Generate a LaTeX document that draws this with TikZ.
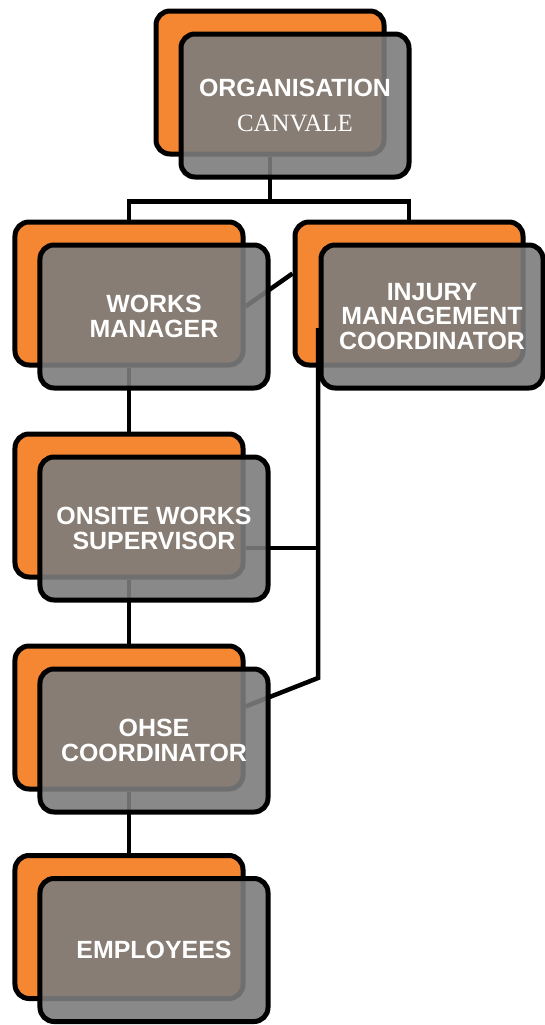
\documentclass[tikz,border=0pt]{standalone}
\usepackage{fontspec}
\setmainfont{Liberation Sans}
\newfontfamily\canvalefont{Liberation Serif}
\usepackage{tikz}
\usetikzlibrary{positioning}
\definecolor{BackFill}{RGB}{246,135,50}
\definecolor{FrontFill}{RGB}{124,124,124}
\definecolor{LinkColor}{RGB}{0,0,0}
\tikzset{
  % Orange card behind
  backbox/.style={
    rectangle,
    rounded corners=14bp,
    draw=black,
    line width=5bp,
    fill=BackFill,
    minimum width=228bp,
    minimum height=143bp,
    inner sep=0pt
  },
  % See-through grey card in front
  frontbox/.style={
    rectangle,
    rounded corners=14bp,
    draw=black,
    line width=5bp,
    fill=FrontFill,
    fill opacity=0.9,
    text opacity=1,
    text=white,
    minimum width=228bp,
    minimum height=143bp,
    inner sep=0pt,
    align=center,
    font=\fontsize{25}{25}\selectfont\bfseries
  },
  % Connector
  link/.style={
    draw=LinkColor,
    line width=4.5bp
  }
}

\begin{document}
\begin{tikzpicture}[x=1bp,y=-1bp]
  \useasboundingbox (0,0) rectangle (545,1025);

  % back cards
  \node[backbox] (orgB) at (270,82.5) {};
  \node[backbox] (worksB) at (129,293.5) {};
  \node[backbox] (injB) at (409,293.5) {};
  \node[backbox] (siteB) at (129,505.5) {};
  \node[backbox] (ohseB) at (129,717.5) {};
  \node[backbox] (empB) at (129,927) {};

  % connectors
  \draw[link] (orgB.south) -- ++(0,45) coordinate (bus) -| (worksB.north);
  \draw[link] (bus) -| (injB.north);
  \draw[link] (worksB.south) -- (siteB.north);
  \draw[link] (siteB.south) -- (ohseB.north);
  \draw[link] (ohseB.south) -- (empB.north);
  \draw[link] ([yshift=-13bp]worksB.east) -- ([yshift=20bp]injB.west);
  \coordinate (spineTop) at (318,328);
  \coordinate (spineMid) at (318,548);
  \coordinate (spineBot) at (318,678);
  \draw[link] (spineTop) -- (spineBot) -- ([yshift=11bp]ohseB.east);
  \draw[link] (spineMid) -- (spineMid -| siteB.east);

  % front cards
  \node[frontbox] (orgF) at ([shift={(25,23)}]orgB) {ORGANISATION\\[10bp]{\canvalefont\mdseries CANVALE}};
  \node[frontbox] (worksF) at ([shift={(25,23)}]worksB) {WORKS\\MANAGER};
  \node[frontbox, minimum width=222bp] (injF) at ([shift={(23,23)}]injB) {INJURY\\MANAGEMENT\\COORDINATOR};
  \node[frontbox] (siteF) at ([shift={(25,23)}]siteB) {ONSITE WORKS\\SUPERVISOR};
  \node[frontbox] (ohseF) at ([shift={(25,23)}]ohseB) {OHSE\\COORDINATOR};
  \node[frontbox] (empF) at ([shift={(25,23)}]empB) {EMPLOYEES};
\end{tikzpicture}
\end{document}
